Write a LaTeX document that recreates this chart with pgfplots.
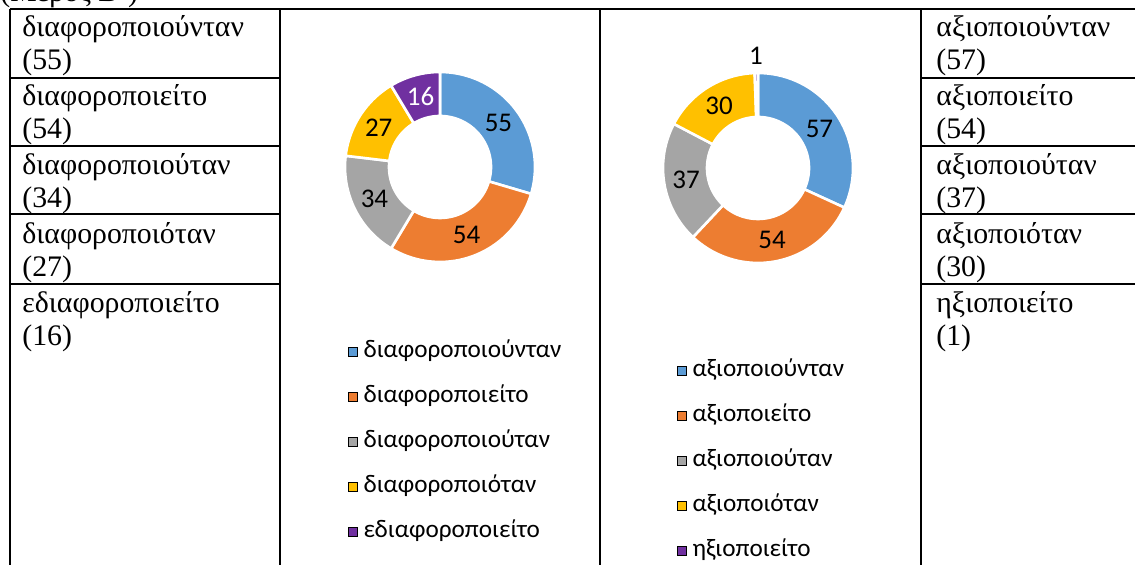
\documentclass[border=0pt]{standalone}
\usepackage{fontspec}
\setmainfont{Liberation Serif}
\newfontfamily\calibri{Carlito}
\usepackage{pgfplots}
\usepackage{pgfplotstable}
\pgfplotsset{compat=1.18}

\definecolor{c0}{HTML}{5B9BD5}
\definecolor{c1}{HTML}{ED7D31}
\definecolor{c2}{HTML}{A5A5A5}
\definecolor{c3}{HTML}{FFC000}
\definecolor{c4}{HTML}{7030A0}

% name, count, label colour, label radius (px)
\pgfplotstableread{
name val lab rad
διαφοροποιούνταν 55 black 73
διαφοροποιείτο 54 black 73
διαφοροποιούταν 34 black 73
διαφοροποιόταν 27 black 73
εδιαφοροποιείτο 16 white 73
}\tblA
\pgfplotstableread{
name val lab rad
αξιοποιούνταν 57 black 73
αξιοποιείτο 54 black 73
αξιοποιούταν 37 black 73
αξιοποιόταν 30 black 73
ηξιοποιείτο 1 black 112
}\tblB

% store angles and labels of each slice in global macros
\newcommand\prep[2]{%
  \xdef\tot{0}%
  \foreach \i in {0,...,4}{%
    \pgfplotstablegetelem{\i}{val}\of#1%
    \pgfmathsetmacro\tmp{\tot+\pgfplotsretval}\xdef\tot{\tmp}}%
  \xdef\acc{0}%
  \foreach \i in {0,...,4}{%
    \pgfplotstablegetelem{\i}{val}\of#1\let\myv\pgfplotsretval
    \pgfmathsetmacro\sa{\acc/\tot*360}%
    \pgfmathsetmacro\ea{(\acc+\myv)/\tot*360}%
    \pgfmathsetmacro\ma{(\sa+\ea)/2}%
    \expandafter\xdef\csname #2sa\i\endcsname{\sa}%
    \expandafter\xdef\csname #2ea\i\endcsname{\ea}%
    \expandafter\xdef\csname #2ma\i\endcsname{\ma}%
    \expandafter\xdef\csname #2v\i\endcsname{\myv}%
    \pgfplotstablegetelem{\i}{name}\of#1%
    \expandafter\xdef\csname #2n\i\endcsname{\pgfplotsretval}%
    \pgfplotstablegetelem{\i}{lab}\of#1%
    \expandafter\xdef\csname #2lab\i\endcsname{\pgfplotsretval}%
    \pgfplotstablegetelem{\i}{rad}\of#1%
    \expandafter\xdef\csname #2rad\i\endcsname{\pgfplotsretval}%
    \pgfmathsetmacro\tmp{\acc+\myv}\xdef\acc{\tmp}}%
}
\prep{\tblA}{A}
\prep{\tblB}{B}

% #1 prefix, #2 centre x, #3 centre y (px from top)
\newcommand\donut[3]{%
  \pgfplotsinvokeforeach{0,...,4}{%
    \edef\tmp{\noexpand\fill[c##1, draw=white, line width=1.3pt]
      plot[variable=\noexpand\ang, domain=\csname #1sa##1\endcsname:\csname #1ea##1\endcsname, samples=40]
        (axis cs:{#2+95*sin(\noexpand\ang)},{-#3+95*cos(\noexpand\ang)})
      -- plot[variable=\noexpand\ang, domain=\csname #1ea##1\endcsname:\csname #1sa##1\endcsname, samples=40]
        (axis cs:{#2+51*sin(\noexpand\ang)},{-#3+51*cos(\noexpand\ang)}) -- cycle;}\tmp
  }%
  \pgfplotsinvokeforeach{0,...,4}{%
    \edef\tmp{\noexpand\node[lbl, text=\csname #1lab##1\endcsname]
      at (axis cs:{#2+\csname #1rad##1\endcsname*sin(\csname #1ma##1\endcsname)},{-#3+\csname #1rad##1\endcsname*cos(\csname #1ma##1\endcsname)})
      {\csname #1v##1\endcsname};}\tmp
    \edef\tmp{\noexpand\addlegendimage{fill=c##1}\noexpand\addlegendentry{\csname #1n##1\endcsname}}\tmp
  }%
}

\tikzset{
  lbl/.style={font=\calibri\fontsize{13.5}{15}\selectfont, inner sep=0pt},
  tt/.style={font=\fontsize{14.9}{16}\selectfont, anchor=base west, inner sep=0pt},
}
\pgfplotsset{
  frame/.style={at={(0,0)}, anchor=south west, width=567.5pt, height=282.5pt,
    scale only axis, xmin=0, xmax=1135, ymin=-565, ymax=0, hide axis, clip=false},
  donutlegend/.style={
    legend image code/.code={\fill[##1] (0pt,-2.1pt) rectangle (4.2pt,2.1pt);},
    legend cell align=left,
    legend style={draw=none, fill=none, inner sep=0pt, row sep=10.5pt,
      font=\calibri\fontsize{12.6}{15}\selectfont,
      nodes={inner sep=0pt, text height=9pt, text depth=3pt},
      /tikz/every odd column/.append style={column sep=3pt}}},
}

\begin{document}
\begin{tikzpicture}
\useasboundingbox (0,0) rectangle (567.5pt,282.5pt);
\clip (0,0) rectangle (567.5pt,282.5pt);

% table frame and text
\begin{axis}[frame]
\node[tt] at (axis cs:0,-2) {(Μέρος Β΄)};
\draw[line width=0.9pt] (axis cs:10,-9) -- (axis cs:1135,-9);
\pgfplotsinvokeforeach{10,280,600,921}{
  \draw[line width=0.9pt] (axis cs:#1,-9) -- (axis cs:#1,-570);
}
\pgfplotsinvokeforeach{78,146,214,284}{
  \draw[line width=0.9pt] (axis cs:10,-#1) -- (axis cs:280,-#1);
  \draw[line width=0.9pt] (axis cs:921,-#1) -- (axis cs:1135,-#1);
}
\pgfplotsinvokeforeach{0,...,4}{
  \edef\tmp{%
    \noexpand\node[tt] at (axis cs:22,{-(37+68.8*#1)}) {\csname An#1\endcsname};
    \noexpand\node[tt] at (axis cs:22,{-(70+68.8*#1)}) {(\csname Av#1\endcsname)};
    \noexpand\node[tt] at (axis cs:936,{-(37+68.8*#1)}) {\csname Bn#1\endcsname};
    \noexpand\node[tt] at (axis cs:936,{-(70+68.8*#1)}) {(\csname Bv#1\endcsname)};}\tmp
}
\end{axis}

% first donut
\begin{axis}[frame, donutlegend,
  legend style={at={(axis description cs:0.3066,0.399)}, anchor=north west}]
\donut{A}{440}{167}
\end{axis}

% second donut
\begin{axis}[frame, donutlegend,
  legend style={at={(axis description cs:0.5965,0.3653)}, anchor=north west}]
\donut{B}{758}{168}
\end{axis}
\end{tikzpicture}
\end{document}
